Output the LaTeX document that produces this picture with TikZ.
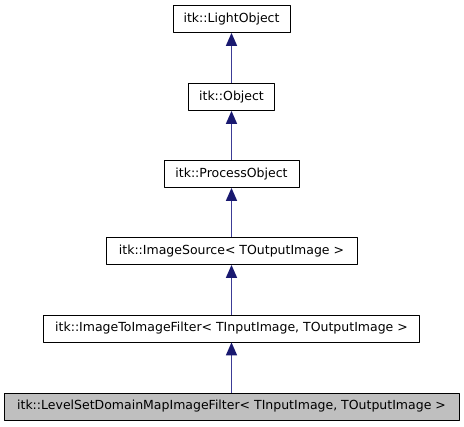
\documentclass[tikz,border=0pt]{standalone}
\usepackage{fontspec}
\setmainfont{DejaVu Sans}
\usetikzlibrary{arrows.meta}
\definecolor{edgeblue}{RGB}{25,25,112}
\definecolor{edgeline}{RGB}{60,60,150}
\begin{document}
\begin{tikzpicture}[x=1pt, y=-1pt, font=\fontsize{12.5}{14}\selectfont, line join=round]
	\tikzset{klasse/.style={draw, fill=white, line width=0.8pt, minimum height=27pt, inner sep=0pt},
		erbe/.style={draw=edgeline, line width=1.6pt, {Triangle[length=13pt,width=11pt,color=edgeblue,fill=edgeblue]}-}}
	\useasboundingbox (0,0) rectangle (464,427);
	\node[klasse, minimum width=117pt] (light) at (231.5,19) {itk::LightObject};
	\node[klasse, minimum width=86pt] (obj) at (231.5,97) {itk::Object};
	\node[klasse, minimum width=135pt] (proc) at (231.5,174) {itk::ProcessObject};
	\node[klasse, minimum width=251pt] (src) at (231.5,251) {itk::ImageSource< TOutputImage >};
	\node[klasse, minimum width=376pt] (i2i) at (231.5,328.5) {itk::ImageToImageFilter< TInputImage, TOutputImage >};
	\node[klasse, fill=black!25, minimum width=455pt] (lsdm) at (231.5,406.5) {itk::LevelSetDomainMapImageFilter< TInputImage, TOutputImage >};
	\draw[erbe] (light.south) -- (obj.north);
	\draw[erbe] (obj.south) -- (proc.north);
	\draw[erbe] (proc.south) -- (src.north);
	\draw[erbe] (src.south) -- (i2i.north);
	\draw[erbe] (i2i.south) -- (lsdm.north);
\end{tikzpicture}
\end{document}
